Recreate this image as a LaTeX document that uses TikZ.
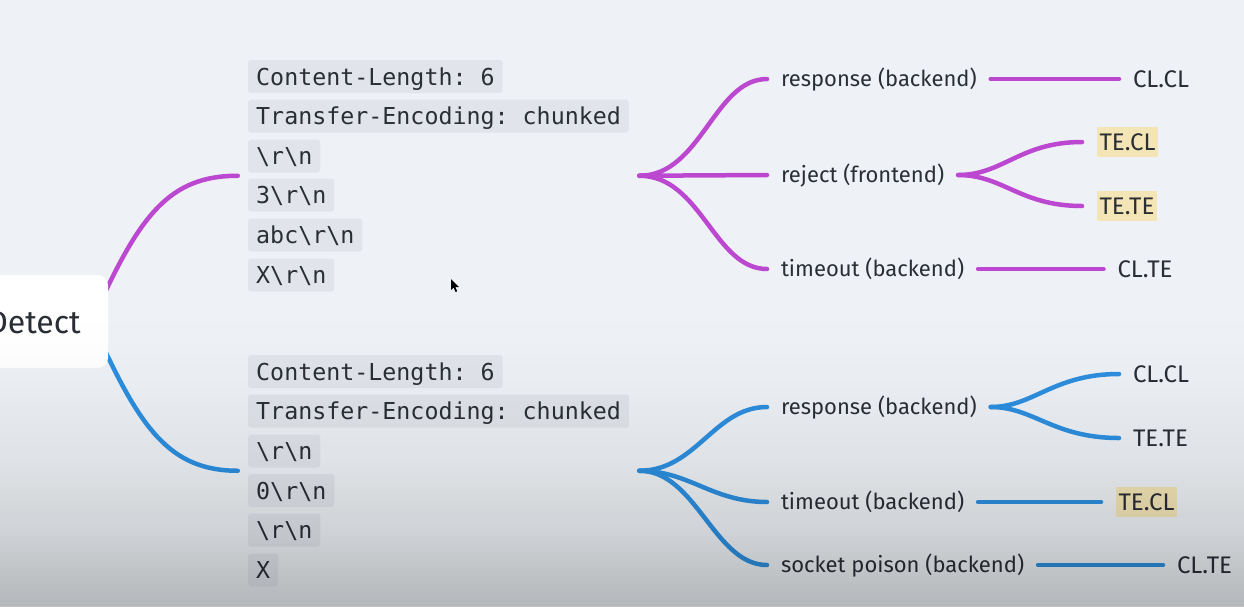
\documentclass[tikz,border=0pt]{standalone}
\usepackage{fontspec}
\setmainfont{Fira Sans}
\newfontfamily\codefont{DejaVu Sans Mono}
\usetikzlibrary{fit}

\definecolor{bgcol}{HTML}{EEF2F6}
\definecolor{codebg}{HTML}{E1E5EB}
\definecolor{ink}{HTML}{2A2E35}
\definecolor{mag}{HTML}{BC48D2}
\definecolor{blu}{HTML}{2D8FDF}
\definecolor{hlfill}{HTML}{F4E5B6}

% soft darkening that grows towards the bottom edge
\pgfdeclareverticalshading{dimdown}{100bp}{%
  color(0bp)=(black!24); color(25bp)=(black!24); color(37.5bp)=(black!13);
  color(50bp)=(black!6); color(62.5bp)=(black!2); color(70bp)=(black!0.5);
  color(75bp)=(white); color(100bp)=(white)}

\pgfdeclarelayer{back}
\pgfdeclarelayer{lines}
\pgfsetlayers{back,lines,main}

\newcommand{\bs}{\textbackslash}
\frenchspacing

\begin{document}
\begin{tikzpicture}[x=1pt,y=-1pt,
  code/.style={fill=codebg, rounded corners=3pt, inner xsep=8pt, inner ysep=0pt,
    minimum height=33pt, text height=17pt, text depth=0pt, anchor=west,
    font=\codefont\fontsize{23.3}{28}\selectfont, text=ink},
  lbl/.style={inner sep=0pt, outer xsep=14pt, text height=15pt, text depth=0pt,
    anchor=west, font=\fontsize{22}{26}\selectfont, text=ink},
  leaf/.style={lbl, text height=16.5pt, font=\fontsize{24}{28}\selectfont},
  hl/.style={leaf, fill=hlfill, inner xsep=2.5pt, inner ysep=6.5pt, outer xsep=15pt},
  root/.style={fill=white, rounded corners=10pt, minimum width=148pt, minimum height=93pt,
    inner sep=0pt, text height=24pt, text depth=0pt, font=\fontsize{32}{36}\selectfont, text=ink},
  grp/.style={inner xsep=10pt, inner ysep=0pt},
  magline/.style={draw=mag, line width=4.5pt, line cap=round},
  bluline/.style={draw=blu, line width=4.5pt, line cap=round}]

\useasboundingbox (0,0) rectangle (1244,606);
\begin{pgfonlayer}{back}
  \fill[bgcol] (0,0) rectangle (1244,606);
\end{pgfonlayer}

% central topic
\node[root] (detect) at (34,321.5) {Detect};

% first request
\node[code] (a1) at (248,76.5) {Content-Length: 6};
\node[code] (a2) at (248,116) {Transfer-Encoding: chunked};
\node[code] (a3) at (248,156) {\bs r\bs n};
\node[code] (a4) at (248,195) {3\bs r\bs n};
\node[code] (a5) at (248,235) {abc\bs r\bs n};
\node[code] (a6) at (248,275) {X\bs r\bs n};
\node[grp, fit=(a1)(a2)(a6)] (grpA) {};

% second request
\node[code] (b1) at (248,371.5) {Content-Length: 6};
\node[code] (b2) at (248,411) {Transfer-Encoding: chunked};
\node[code] (b3) at (248,451) {\bs r\bs n};
\node[code] (b4) at (248,490.5) {0\bs r\bs n};
\node[code] (b5) at (248,530) {\bs r\bs n};
\node[code] (b6) at (248,570) {X};
\node[grp, fit=(b1)(b2)(b6)] (grpB) {};

% outcomes of the first request
\node[lbl] (rA1) at (767,79) {response (backend)};
\node[lbl] (rA2) at (767,175) {reject (frontend)};
\node[lbl] (rA3) at (767,269) {timeout (backend)};
\node[leaf] (lA1) at (1119,79) {CL.CL};
\node[hl]   (lA2) at (1082,142) {TE.CL};
\node[hl]   (lA3) at (1082,206) {TE.TE};
\node[leaf] (lA4) at (1103.5,269) {CL.TE};

% outcomes of the second request
\node[lbl] (rB1) at (767,407) {response (backend)};
\node[lbl] (rB2) at (767,502) {timeout (backend)};
\node[lbl] (rB3) at (767,565) {socket poison (backend)};
\node[leaf] (lB1) at (1119,374) {CL.CL};
\node[leaf] (lB2) at (1119,438) {TE.TE};
\node[hl]   (lB3) at (1101,502) {TE.CL};
\node[leaf] (lB4) at (1163,565) {CL.TE};

\begin{pgfonlayer}{lines}
  % central topic to the two requests
  \draw[magline] ([xshift=-12pt,yshift=10pt]detect.east) .. controls +(44,-97) and +(-68,0) .. (grpA.west);
  \draw[bluline] ([xshift=-12pt,yshift=-10pt]detect.east) .. controls +(44,97) and +(-68,0) .. (grpB.west);

  % first request branches
  \draw[magline] (grpA.east) .. controls +(62,0) and +(-53,0) .. (rA1.west);
  \draw[magline] (grpA.east) -- (rA2.west);
  \draw[magline] (grpA.east) .. controls +(62,0) and +(-53,0) .. (rA3.west);
  \draw[magline] (rA1.east) -- (lA1.west);
  \draw[magline] (rA2.east) .. controls +(45,0) and +(-62,0) .. (lA2.west);
  \draw[magline] (rA2.east) .. controls +(45,0) and +(-62,0) .. (lA3.west);
  \draw[magline] (rA3.east) -- (lA4.west);

  % second request branches
  \draw[bluline] (grpB.east) .. controls +(57,0) and +(-53,0) .. (rB1.west);
  \draw[bluline] (grpB.east) .. controls +(50,0) and +(-55,0) .. (rB2.west);
  \draw[bluline] (grpB.east) .. controls +(57,0) and +(-53,0) .. (rB3.west);
  \draw[bluline] (rB1.east) .. controls +(43,0) and +(-66,0) .. (lB1.west);
  \draw[bluline] (rB1.east) .. controls +(43,0) and +(-66,0) .. (lB2.west);
  \draw[bluline] (rB2.east) -- (lB3.west);
  \draw[bluline] (rB3.east) -- (lB4.west);
\end{pgfonlayer}

% mouse pointer
\fill[black] (451,279) -- (451,290) -- (453.6,287.6) -- (455.6,292) -- (457.2,291.3) -- (455.3,287) -- (458.8,287) -- cycle;

% darkening towards the bottom edge
\shade[blend mode=multiply, shading=dimdown] (0,310) rectangle (1244,606);
\end{tikzpicture}
\end{document}
